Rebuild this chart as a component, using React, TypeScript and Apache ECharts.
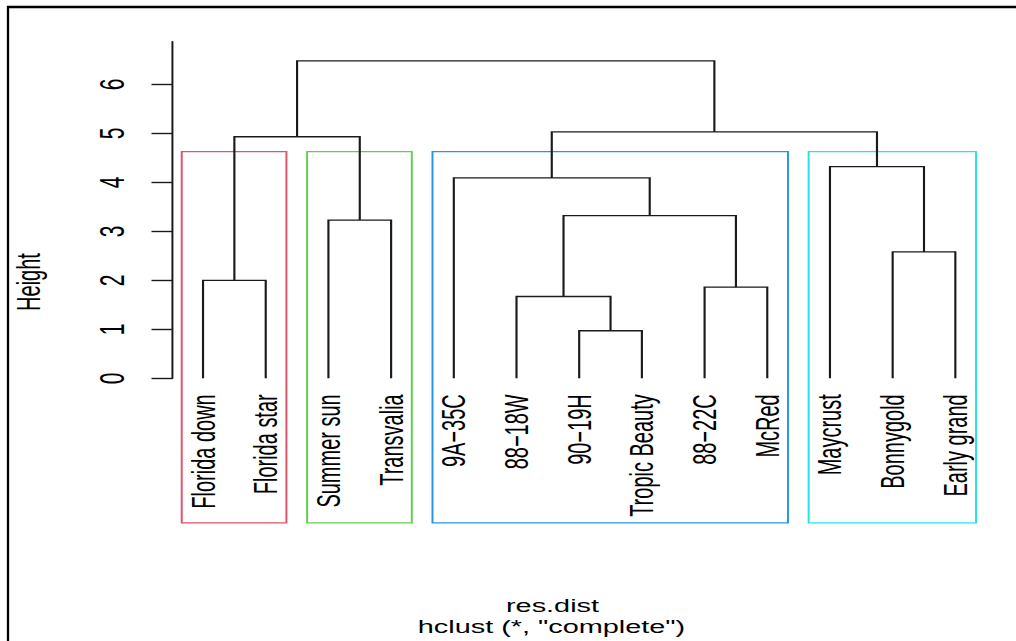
import React, { useEffect, useRef } from "react";
import * as echarts from "echarts";

// ---- data ----
const leaves = [
  "Florida down", "Florida star", "Summer sun", "Transvalia", "9A\u221235C", "88\u221218W",
  "90\u221219H", "Tropic Beauty", "88\u221222C", "McRed", "Maycrust", "Bonnygold", "Early grand",
];
// R-style merge matrix: negative = leaf (1-based), positive = earlier merge (1-based)
const mergeLeft = [-1, -3, 1, -7, -6, -9, 5, -5, -12, -11, 8, 3];
const mergeRight = [-2, -4, 2, -8, 4, -10, 6, 7, -13, 9, 10, 11];
const mergeHeight = [2.0, 3.23, 4.93, 0.97, 1.67, 1.86, 3.32, 4.09, 2.58, 4.32, 5.03, 6.48];
const yTicks = [0, 1, 2, 3, 4, 5, 6];
const clusterStart = [1, 3, 5, 11];
const clusterEnd = [2, 4, 10, 13];
const clusterColors = ["#DF536B", "#61D04F", "#2297E6", "#28E2E5"];
const k = 4;

const S = 1.65; // horizontal stretch of the reference picture
const W = 1016 / S;
const H = 641;
const ux = (x: number) => x / S;

function buildDendro() {
  const pos: number[] = [];
  const rows: number[][] = [];
  const px = (i: number) => (i < 0 ? -i : pos[i - 1]);
  const ph = (i: number) => (i < 0 ? 0 : mergeHeight[i - 1]);
  for (let i = 0; i < mergeLeft.length; i++) {
    const a = mergeLeft[i], b = mergeRight[i];
    const xa = px(a), xb = px(b);
    pos.push((xa + xb) / 2);
    rows.push([xa, xb, ph(a), ph(b), mergeHeight[i]]);
  }
  return rows;
}

export default function App() {
  const ref = useRef<HTMLDivElement>(null);
  useEffect(() => {
    if (!ref.current) return;
    const chart = echarts.init(ref.current, null, { renderer: "svg" });
    const dendro = buildDendro();
    const sorted = [...mergeHeight].sort((a, b) => b - a);
    const cutH = (sorted[k - 2] + sorted[k - 1]) / 2;
    const plotBottom = -2.95;
    const rects = clusterStart.map((s, i) => [s - 0.34, clusterEnd[i] + 0.33, plotBottom, cutH]);
    const font = "'Liberation Sans', Arial, sans-serif";

    chart.setOption({
      animation: false,
      backgroundColor: "#ffffff",
      grid: {
        left: ux(172.5),
        right: ux(29.7),
        top: 41.7,
        bottom: H - 378.3,
        outerBoundsMode: "none",
      },
      xAxis: {
        type: "value",
        min: 0.513,
        max: 13.5,
        axisLine: { show: false },
        axisTick: { show: false },
        splitLine: { show: false },
        axisLabel: {
          customValues: leaves.map((_, i) => i + 1),
          formatter: (v: number) => leaves[Math.round(v) - 1] ?? "",
          rotate: 90,
          margin: 16,
          fontSize: 20,
          color: "#000",
          fontFamily: font,
        },
      },
      yAxis: {
        type: "value",
        min: 0,
        max: 6.87,
        axisLine: { show: true, lineStyle: { color: "#1a1a1a", width: 1.2 } },
        axisTick: {
          show: true,
          customValues: yTicks,
          length: ux(21),
          lineStyle: { color: "#1a1a1a", width: 1.4 },
        },
        splitLine: { show: false },
        axisLabel: {
          customValues: yTicks,
          rotate: 90,
          margin: 26,
          fontSize: 21,
          color: "#000",
          fontFamily: font,
        },
      },
      series: [
        {
          type: "custom",
          clip: false,
          z: 1,
          data: rects,
          renderItem: (params: any, api: any) => {
            const p1 = api.coord([api.value(0), api.value(3)]);
            const p2 = api.coord([api.value(1), api.value(2)]);
            return {
              type: "rect",
              shape: { x: p1[0], y: p1[1], width: p2[0] - p1[0], height: p2[1] - p1[1] },
              style: { fill: "none", stroke: clusterColors[params.dataIndex], lineWidth: 1.2 },
            };
          },
        },
        {
          type: "custom",
          clip: false,
          z: 2,
          data: dendro,
          renderItem: (params: any, api: any) => {
            const a = api.coord([api.value(0), api.value(2)]);
            const b = api.coord([api.value(0), api.value(4)]);
            const c = api.coord([api.value(1), api.value(4)]);
            const d = api.coord([api.value(1), api.value(3)]);
            return {
              type: "polyline",
              shape: { points: [a, b, c, d] },
              style: { fill: "none", stroke: "#1a1a1a", lineWidth: 1.3 },
            };
          },
        },
      ],
      graphic: [
        {
          type: "line",
          shape: { x1: ux(8), y1: 6, x2: ux(8), y2: H },
          style: { stroke: "#000", lineWidth: 1.4 },
        },
        {
          type: "line",
          shape: { x1: ux(7), y1: 7, x2: W, y2: 7 },
          style: { stroke: "#000", lineWidth: 2.4 },
        },
        {
          type: "text",
          x: ux(28.5),
          y: 282,
          rotation: Math.PI / 2,
          style: {
            text: "Height",
            fontSize: 20,
            fontFamily: font,
            fill: "#000",
            align: "center",
            verticalAlign: "middle",
          },
        },
        {
          type: "text",
          x: ux(552.5),
          y: 606,
          style: {
            text: "res.dist",
            fontSize: 17.5,
            fontFamily: font,
            fill: "#000",
            align: "center",
            verticalAlign: "middle",
          },
        },
        {
          type: "text",
          x: ux(551.5),
          y: 627,
          style: {
            text: 'hclust (*, "complete")',
            fontSize: 17.5,
            fontFamily: font,
            fill: "#000",
            align: "center",
            verticalAlign: "middle",
          },
        },
      ],
    });
    return () => chart.dispose();
  }, []);
  return (
    <div
      ref={ref}
      style={{
        position: "absolute",
        left: 0,
        top: 0,
        width: W,
        height: H,
        transformOrigin: "0 0",
        transform: `scaleX(${S})`,
      }}
    />
  );
}
